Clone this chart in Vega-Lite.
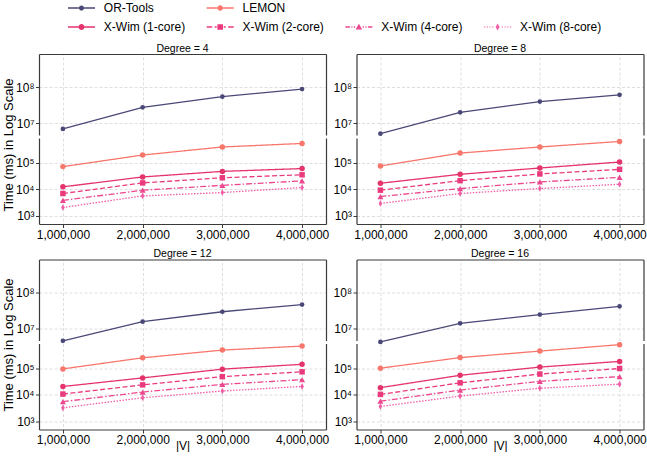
{
"$schema": "https://vega.github.io/schema/vega-lite/v6.json",
"background": "white",
"padding": {"left": 2, "top": 2, "right": 0, "bottom": 0},
"autosize": {"type": "pad"},
"config": {
  "view": {"stroke": null},
  "font": "Liberation Sans",
  "axis": {"labelFont": "Liberation Sans", "labelFontSize": 12, "labelColor": "#000", "titleFont": "Liberation Sans", "titleFontWeight": "normal", "titleColor": "#000", "domainColor": "#3a3a3a", "domainWidth": 1.2, "tickColor": "#3a3a3a", "tickSize": 3.5, "tickWidth": 1, "gridColor": "#d6d6d6", "gridDash": [3, 2], "gridWidth": 0.8, "labelPadding": 1.5}
},
"data": {"values": [
{"degree":4,"V":1000000,"series":"OR-Tools","time":6800000},{"degree":4,"V":2000000,"series":"OR-Tools","time":27500000},{"degree":4,"V":3000000,"series":"OR-Tools","time":55000000},{"degree":4,"V":4000000,"series":"OR-Tools","time":90000000},
{"degree":4,"V":1000000,"series":"LEMON","time":71000},{"degree":4,"V":2000000,"series":"LEMON","time":194000},{"degree":4,"V":3000000,"series":"LEMON","time":390000},{"degree":4,"V":4000000,"series":"LEMON","time":530000},
{"degree":4,"V":1000000,"series":"X-Wim (1-core)","time":12300},{"degree":4,"V":2000000,"series":"X-Wim (1-core)","time":29000},{"degree":4,"V":3000000,"series":"X-Wim (1-core)","time":47000},{"degree":4,"V":4000000,"series":"X-Wim (1-core)","time":60000},
{"degree":4,"V":1000000,"series":"X-Wim (2-core)","time":6900},{"degree":4,"V":2000000,"series":"X-Wim (2-core)","time":17300},{"degree":4,"V":3000000,"series":"X-Wim (2-core)","time":27000},{"degree":4,"V":4000000,"series":"X-Wim (2-core)","time":35000},
{"degree":4,"V":1000000,"series":"X-Wim (4-core)","time":3800},{"degree":4,"V":2000000,"series":"X-Wim (4-core)","time":9200},{"degree":4,"V":3000000,"series":"X-Wim (4-core)","time":14000},{"degree":4,"V":4000000,"series":"X-Wim (4-core)","time":20600},
{"degree":4,"V":1000000,"series":"X-Wim (8-core)","time":2050},{"degree":4,"V":2000000,"series":"X-Wim (8-core)","time":5600},{"degree":4,"V":3000000,"series":"X-Wim (8-core)","time":7500},{"degree":4,"V":4000000,"series":"X-Wim (8-core)","time":11600},
{"degree":8,"V":1000000,"series":"OR-Tools","time":5000000},{"degree":8,"V":2000000,"series":"OR-Tools","time":20000000},{"degree":8,"V":3000000,"series":"OR-Tools","time":40000000},{"degree":8,"V":4000000,"series":"OR-Tools","time":62000000},
{"degree":8,"V":1000000,"series":"LEMON","time":75000},{"degree":8,"V":2000000,"series":"LEMON","time":230000},{"degree":8,"V":3000000,"series":"LEMON","time":390000},{"degree":8,"V":4000000,"series":"LEMON","time":630000},
{"degree":8,"V":1000000,"series":"X-Wim (1-core)","time":16800},{"degree":8,"V":2000000,"series":"X-Wim (1-core)","time":36500},{"degree":8,"V":3000000,"series":"X-Wim (1-core)","time":63000},{"degree":8,"V":4000000,"series":"X-Wim (1-core)","time":106000},
{"degree":8,"V":1000000,"series":"X-Wim (2-core)","time":9200},{"degree":8,"V":2000000,"series":"X-Wim (2-core)","time":21000},{"degree":8,"V":3000000,"series":"X-Wim (2-core)","time":37600},{"degree":8,"V":4000000,"series":"X-Wim (2-core)","time":56000},
{"degree":8,"V":1000000,"series":"X-Wim (4-core)","time":5300},{"degree":8,"V":2000000,"series":"X-Wim (4-core)","time":10600},{"degree":8,"V":3000000,"series":"X-Wim (4-core)","time":18800},{"degree":8,"V":4000000,"series":"X-Wim (4-core)","time":28000},
{"degree":8,"V":1000000,"series":"X-Wim (8-core)","time":2900},{"degree":8,"V":2000000,"series":"X-Wim (8-core)","time":6900},{"degree":8,"V":3000000,"series":"X-Wim (8-core)","time":10600},{"degree":8,"V":4000000,"series":"X-Wim (8-core)","time":15400},
{"degree":12,"V":1000000,"series":"OR-Tools","time":4500000},{"degree":12,"V":2000000,"series":"OR-Tools","time":15600000},{"degree":12,"V":3000000,"series":"OR-Tools","time":29600000},{"degree":12,"V":4000000,"series":"OR-Tools","time":47000000},
{"degree":12,"V":1000000,"series":"LEMON","time":94000},{"degree":12,"V":2000000,"series":"LEMON","time":246000},{"degree":12,"V":3000000,"series":"LEMON","time":480000},{"degree":12,"V":4000000,"series":"LEMON","time":680000},
{"degree":12,"V":1000000,"series":"X-Wim (1-core)","time":20400},{"degree":12,"V":2000000,"series":"X-Wim (1-core)","time":43000},{"degree":12,"V":3000000,"series":"X-Wim (1-core)","time":92000},{"degree":12,"V":4000000,"series":"X-Wim (1-core)","time":140000},
{"degree":12,"V":1000000,"series":"X-Wim (2-core)","time":10600},{"degree":12,"V":2000000,"series":"X-Wim (2-core)","time":23500},{"degree":12,"V":3000000,"series":"X-Wim (2-core)","time":48000},{"degree":12,"V":4000000,"series":"X-Wim (2-core)","time":73000},
{"degree":12,"V":1000000,"series":"X-Wim (4-core)","time":5500},{"degree":12,"V":2000000,"series":"X-Wim (4-core)","time":12600},{"degree":12,"V":3000000,"series":"X-Wim (4-core)","time":24600},{"degree":12,"V":4000000,"series":"X-Wim (4-core)","time":37000},
{"degree":12,"V":1000000,"series":"X-Wim (8-core)","time":3200},{"degree":12,"V":2000000,"series":"X-Wim (8-core)","time":7700},{"degree":12,"V":3000000,"series":"X-Wim (8-core)","time":13800},{"degree":12,"V":4000000,"series":"X-Wim (8-core)","time":20600},
{"degree":16,"V":1000000,"series":"OR-Tools","time":4200000},{"degree":16,"V":2000000,"series":"OR-Tools","time":14000000},{"degree":16,"V":3000000,"series":"OR-Tools","time":24600000},{"degree":16,"V":4000000,"series":"OR-Tools","time":42000000},
{"degree":16,"V":1000000,"series":"LEMON","time":100000},{"degree":16,"V":2000000,"series":"LEMON","time":250000},{"degree":16,"V":3000000,"series":"LEMON","time":440000},{"degree":16,"V":4000000,"series":"LEMON","time":770000},
{"degree":16,"V":1000000,"series":"X-Wim (1-core)","time":18500},{"degree":16,"V":2000000,"series":"X-Wim (1-core)","time":54000},{"degree":16,"V":3000000,"series":"X-Wim (1-core)","time":110000},{"degree":16,"V":4000000,"series":"X-Wim (1-core)","time":180000},
{"degree":16,"V":1000000,"series":"X-Wim (2-core)","time":10300},{"degree":16,"V":2000000,"series":"X-Wim (2-core)","time":28000},{"degree":16,"V":3000000,"series":"X-Wim (2-core)","time":60000},{"degree":16,"V":4000000,"series":"X-Wim (2-core)","time":97000},
{"degree":16,"V":1000000,"series":"X-Wim (4-core)","time":5700},{"degree":16,"V":2000000,"series":"X-Wim (4-core)","time":15000},{"degree":16,"V":3000000,"series":"X-Wim (4-core)","time":32000},{"degree":16,"V":4000000,"series":"X-Wim (4-core)","time":48000},
{"degree":16,"V":1000000,"series":"X-Wim (8-core)","time":3600},{"degree":16,"V":2000000,"series":"X-Wim (8-core)","time":8900},{"degree":16,"V":3000000,"series":"X-Wim (8-core)","time":17600},{"degree":16,"V":4000000,"series":"X-Wim (8-core)","time":25000}
]},
"spacing": 8.5,
"vconcat": [
 {"hconcat": [
  {"vconcat": [
   {"width": 287, "height": 81,
    "title": {"text": "Degree = 4", "fontSize": 10.5, "fontWeight": "normal", "font": "Liberation Sans", "color": "#000", "offset": 0, "frame": "group", "anchor": "middle"},
    "transform": [{"filter": "datum.degree == 4 && datum.series == 'OR-Tools'"}],
    "layer": [
     {"transform": [{"filter": "false"}],
      "mark": {"type": "point", "filled": true, "opacity": 1},
      "encoding": {
       "x": {"field": "V", "type": "quantitative", "scale": {"domain": [700000, 4300000], "nice": false, "zero": false}, "axis": null},
       "y": {"field": "time", "type": "quantitative", "scale": {"type": "log", "domain": [4600000, 870000000], "nice": false}, "axis": null},
       "color": {"field": "series", "type": "nominal", "scale": {"domain": ["OR-Tools","LEMON"," ","  ","X-Wim (1-core)","X-Wim (2-core)","X-Wim (4-core)","X-Wim (8-core)"], "range": ["#4a4877","#f8776c","transparent","transparent","#e5336c","#ea3a7e","#ec478e","#f05fa6"]},
        "legend": {"title": null, "orient": "none", "legendX": 28, "legendY": -52, "direction": "horizontal", "columns": 4, "symbolSize": 100, "symbolOffset": 8.5, "symbolStrokeWidth": 0, "labelOffset": 16.3, "labelFontSize": 12, "labelFont": "Liberation Sans", "labelColor": "#000", "rowPadding": 7, "columnPadding": 19.7, "padding": 0}},
       "shape": {"field": "series", "type": "nominal", "scale": {"domain": ["OR-Tools","LEMON"," ","  ","X-Wim (1-core)","X-Wim (2-core)","X-Wim (4-core)","X-Wim (8-core)"], "range": [
         "M-2.7,-0.14H-0.52V0.14H-2.7Z M0.52,-0.14H2.7V0.14H0.52Z M-0.52,0A0.52,0.52 0 1,0 0.52,0A0.52,0.52 0 1,0 -0.52,0Z",
         "M-2.7,-0.14H-0.56V0.14H-2.7Z M0.56,-0.14H2.7V0.14H0.56Z M-0.56,0A0.56,0.56 0 1,0 0.56,0A0.56,0.56 0 1,0 -0.56,0Z",
         "circle", "circle",
         "M-2.7,-0.14H-0.6V0.14H-2.7Z M0.6,-0.14H2.7V0.14H0.6Z M-0.6,0A0.6,0.6 0 1,0 0.6,0A0.6,0.6 0 1,0 -0.6,0Z",
         "M-2.7,-0.14H-1.6V0.14H-2.7Z M-1.1,-0.14H-0.7V0.14H-1.1Z M0.7,-0.14H1.1V0.14H0.7Z M1.6,-0.14H2.7V0.14H1.6Z M-0.56,-0.56H0.56V0.56H-0.56Z",
         "M-2.7,-0.14H-1.8V0.14H-2.7Z M-1.5,-0.14H-1.3V0.14H-1.5Z M-1.0,-0.14H-0.75V0.14H-1.0Z M0.75,-0.14H1.0V0.14H0.75Z M1.3,-0.14H1.5V0.14H1.3Z M1.8,-0.14H2.7V0.14H1.8Z M0,-0.66L0.66,0.5L-0.66,0.5Z",
         "M-2.7,-0.12H-2.46V0.12H-2.7Z M-2.16,-0.12H-1.92V0.12H-2.16Z M-1.62,-0.12H-1.38V0.12H-1.62Z M-1.08,-0.12H-0.84V0.12H-1.08Z M0.84,-0.12H1.08V0.12H0.84Z M1.38,-0.12H1.62V0.12H1.38Z M1.92,-0.12H2.16V0.12H1.92Z M2.46,-0.12H2.7V0.12H2.46Z M0,-0.7L0.4,0L0,0.7L-0.4,0Z"]},
        "legend": {"title": null, "orient": "none", "legendX": 28, "legendY": -52, "direction": "horizontal", "columns": 4, "symbolSize": 100, "symbolOffset": 8.5, "symbolStrokeWidth": 0, "labelOffset": 16.3, "labelFontSize": 12, "labelFont": "Liberation Sans", "labelColor": "#000", "rowPadding": 7, "columnPadding": 19.7, "padding": 0}}}},
     {"mark": {"type": "line", "strokeWidth": 1.3},
      "encoding": {
       "x": {"field": "V", "type": "quantitative", "scale": {"domain": [700000, 4300000], "nice": false, "zero": false}, "axis": {"orient": "top", "values": [1000000, 2000000, 3000000, 4000000], "labels": false, "ticks": false, "grid": true, "title": null}},
       "y": {"field": "time", "type": "quantitative", "scale": {"type": "log", "domain": [4600000, 870000000], "nice": false}, "axis": {"values": [10000000, 100000000], "labelExpr": "'10' + ['⁰','¹','²','³','⁴','⁵','⁶','⁷','⁸','⁹'][round(log(datum.value) / LN10)]", "grid": true, "title": null, "labelFlush": false}},
       "color": {"field": "series", "type": "nominal", "scale": {"domain": ["OR-Tools","LEMON"," ","  ","X-Wim (1-core)","X-Wim (2-core)","X-Wim (4-core)","X-Wim (8-core)"], "range": ["#4a4877","#f8776c","transparent","transparent","#e5336c","#ea3a7e","#ec478e","#f05fa6"]}}}},
     {"mark": {"type": "point", "shape": "circle", "filled": true, "opacity": 1, "size": 22},
      "encoding": {
       "x": {"field": "V", "type": "quantitative", "scale": {"domain": [700000, 4300000], "nice": false, "zero": false}, "axis": null},
       "y": {"field": "time", "type": "quantitative", "scale": {"type": "log", "domain": [4600000, 870000000], "nice": false}, "axis": {"orient": "right", "labels": false, "ticks": false, "grid": false, "title": null}},
       "color": {"field": "series", "type": "nominal", "scale": {"domain": ["OR-Tools","LEMON"," ","  ","X-Wim (1-core)","X-Wim (2-core)","X-Wim (4-core)","X-Wim (8-core)"], "range": ["#4a4877","#f8776c","transparent","transparent","#e5336c","#ea3a7e","#ec478e","#f05fa6"]}}}}
    ],
    "resolve": {"axis": {"x": "independent", "y": "independent"}}},
   {"width": 287, "height": 86,
    "transform": [{"filter": "datum.degree == 4 && datum.series != 'OR-Tools'"}],
    "layer": [
     {"mark": {"type": "line", "strokeWidth": 1.3},
      "encoding": {
       "x": {"field": "V", "type": "quantitative", "scale": {"domain": [700000, 4300000], "nice": false, "zero": false}, "axis": {"values": [1000000, 2000000, 3000000, 4000000], "format": ",d", "grid": true, "title": null, "labelFlush": false}},
       "y": {"field": "time", "type": "quantitative", "scale": {"type": "log", "domain": [490, 850000], "nice": false}, "axis": {"values": [1000, 10000, 100000], "labelExpr": "'10' + ['⁰','¹','²','³','⁴','⁵','⁶','⁷','⁸','⁹'][round(log(datum.value) / LN10)]", "grid": true, "title": "Time (ms) in Log Scale", "titleFontSize": 13, "titlePadding": 0, "titleY": 6.5, "labelFlush": false}},
       "color": {"field": "series", "type": "nominal", "scale": {"domain": ["OR-Tools","LEMON"," ","  ","X-Wim (1-core)","X-Wim (2-core)","X-Wim (4-core)","X-Wim (8-core)"], "range": ["#4a4877","#f8776c","transparent","transparent","#e5336c","#ea3a7e","#ec478e","#f05fa6"]}},
       "strokeDash": {"field": "series", "type": "nominal", "scale": {"domain": ["OR-Tools","LEMON","X-Wim (1-core)","X-Wim (2-core)","X-Wim (4-core)","X-Wim (8-core)"], "range": [[1,0],[1,0],[1,0],[5,2.5],[6,2,1.5,2],[1.5,1.5]]}, "legend": null}}},
     {"transform": [{"filter": {"field": "series", "oneOf": ["LEMON", "X-Wim (1-core)"]}}],
      "mark": {"type": "point", "shape": "circle", "filled": true, "opacity": 1, "size": 30},
      "encoding": {
       "x": {"field": "V", "type": "quantitative", "scale": {"domain": [700000, 4300000], "nice": false, "zero": false}, "axis": null},
       "y": {"field": "time", "type": "quantitative", "scale": {"type": "log", "domain": [490, 850000], "nice": false}, "axis": {"orient": "right", "labels": false, "ticks": false, "grid": false, "title": null}},
       "color": {"field": "series", "type": "nominal", "scale": {"domain": ["OR-Tools","LEMON"," ","  ","X-Wim (1-core)","X-Wim (2-core)","X-Wim (4-core)","X-Wim (8-core)"], "range": ["#4a4877","#f8776c","transparent","transparent","#e5336c","#ea3a7e","#ec478e","#f05fa6"]}}}},
     {"transform": [{"filter": {"field": "series", "equal": "X-Wim (2-core)"}}],
      "mark": {"type": "point", "shape": "square", "filled": true, "opacity": 1, "size": 30},
      "encoding": {
       "x": {"field": "V", "type": "quantitative", "scale": {"domain": [700000, 4300000], "nice": false, "zero": false}, "axis": null},
       "y": {"field": "time", "type": "quantitative", "scale": {"type": "log", "domain": [490, 850000], "nice": false}, "axis": null},
       "color": {"field": "series", "type": "nominal", "scale": {"domain": ["OR-Tools","LEMON"," ","  ","X-Wim (1-core)","X-Wim (2-core)","X-Wim (4-core)","X-Wim (8-core)"], "range": ["#4a4877","#f8776c","transparent","transparent","#e5336c","#ea3a7e","#ec478e","#f05fa6"]}}}},
     {"transform": [{"filter": {"field": "series", "equal": "X-Wim (4-core)"}}],
      "mark": {"type": "point", "shape": "triangle-up", "filled": true, "opacity": 1, "size": 36},
      "encoding": {
       "x": {"field": "V", "type": "quantitative", "scale": {"domain": [700000, 4300000], "nice": false, "zero": false}, "axis": null},
       "y": {"field": "time", "type": "quantitative", "scale": {"type": "log", "domain": [490, 850000], "nice": false}, "axis": null},
       "color": {"field": "series", "type": "nominal", "scale": {"domain": ["OR-Tools","LEMON"," ","  ","X-Wim (1-core)","X-Wim (2-core)","X-Wim (4-core)","X-Wim (8-core)"], "range": ["#4a4877","#f8776c","transparent","transparent","#e5336c","#ea3a7e","#ec478e","#f05fa6"]}}}},
     {"transform": [{"filter": {"field": "series", "equal": "X-Wim (8-core)"}}],
      "mark": {"type": "point", "shape": "M0,-1L0.55,0L0,1L-0.55,0Z", "filled": true, "opacity": 1, "size": 44},
      "encoding": {
       "x": {"field": "V", "type": "quantitative", "scale": {"domain": [700000, 4300000], "nice": false, "zero": false}, "axis": null},
       "y": {"field": "time", "type": "quantitative", "scale": {"type": "log", "domain": [490, 850000], "nice": false}, "axis": null},
       "color": {"field": "series", "type": "nominal", "scale": {"domain": ["OR-Tools","LEMON"," ","  ","X-Wim (1-core)","X-Wim (2-core)","X-Wim (4-core)","X-Wim (8-core)"], "range": ["#4a4877","#f8776c","transparent","transparent","#e5336c","#ea3a7e","#ec478e","#f05fa6"]}}}}
    ],
    "resolve": {"axis": {"x": "independent", "y": "independent"}}}
  ], "spacing": 3, "bounds": "flush"},
  {"vconcat": [
   {"width": 287, "height": 81,
    "title": {"text": "Degree = 8", "fontSize": 10.5, "fontWeight": "normal", "font": "Liberation Sans", "color": "#000", "offset": 0, "frame": "group", "anchor": "middle"},
    "transform": [{"filter": "datum.degree == 8 && datum.series == 'OR-Tools'"}],
    "layer": [
     {"mark": {"type": "line", "strokeWidth": 1.3},
      "encoding": {
       "x": {"field": "V", "type": "quantitative", "scale": {"domain": [700000, 4300000], "nice": false, "zero": false}, "axis": {"orient": "top", "values": [1000000, 2000000, 3000000, 4000000], "labels": false, "ticks": false, "grid": true, "title": null}},
       "y": {"field": "time", "type": "quantitative", "scale": {"type": "log", "domain": [4600000, 870000000], "nice": false}, "axis": {"values": [10000000, 100000000], "labelExpr": "'10' + ['⁰','¹','²','³','⁴','⁵','⁶','⁷','⁸','⁹'][round(log(datum.value) / LN10)]", "grid": true, "title": null, "labelFlush": false}},
       "color": {"field": "series", "type": "nominal", "scale": {"domain": ["OR-Tools","LEMON"," ","  ","X-Wim (1-core)","X-Wim (2-core)","X-Wim (4-core)","X-Wim (8-core)"], "range": ["#4a4877","#f8776c","transparent","transparent","#e5336c","#ea3a7e","#ec478e","#f05fa6"]}}}},
     {"mark": {"type": "point", "shape": "circle", "filled": true, "opacity": 1, "size": 22},
      "encoding": {
       "x": {"field": "V", "type": "quantitative", "scale": {"domain": [700000, 4300000], "nice": false, "zero": false}, "axis": null},
       "y": {"field": "time", "type": "quantitative", "scale": {"type": "log", "domain": [4600000, 870000000], "nice": false}, "axis": {"orient": "right", "labels": false, "ticks": false, "grid": false, "title": null}},
       "color": {"field": "series", "type": "nominal", "scale": {"domain": ["OR-Tools","LEMON"," ","  ","X-Wim (1-core)","X-Wim (2-core)","X-Wim (4-core)","X-Wim (8-core)"], "range": ["#4a4877","#f8776c","transparent","transparent","#e5336c","#ea3a7e","#ec478e","#f05fa6"]}}}}
    ],
    "resolve": {"axis": {"x": "independent", "y": "independent"}}},
   {"width": 287, "height": 86,
    "transform": [{"filter": "datum.degree == 8 && datum.series != 'OR-Tools'"}],
    "layer": [
     {"mark": {"type": "line", "strokeWidth": 1.3},
      "encoding": {
       "x": {"field": "V", "type": "quantitative", "scale": {"domain": [700000, 4300000], "nice": false, "zero": false}, "axis": {"values": [1000000, 2000000, 3000000, 4000000], "format": ",d", "grid": true, "title": null, "labelFlush": false}},
       "y": {"field": "time", "type": "quantitative", "scale": {"type": "log", "domain": [490, 850000], "nice": false}, "axis": {"values": [1000, 10000, 100000], "labelExpr": "'10' + ['⁰','¹','²','³','⁴','⁵','⁶','⁷','⁸','⁹'][round(log(datum.value) / LN10)]", "grid": true, "title": null, "labelFlush": false}},
       "color": {"field": "series", "type": "nominal", "scale": {"domain": ["OR-Tools","LEMON"," ","  ","X-Wim (1-core)","X-Wim (2-core)","X-Wim (4-core)","X-Wim (8-core)"], "range": ["#4a4877","#f8776c","transparent","transparent","#e5336c","#ea3a7e","#ec478e","#f05fa6"]}},
       "strokeDash": {"field": "series", "type": "nominal", "scale": {"domain": ["OR-Tools","LEMON","X-Wim (1-core)","X-Wim (2-core)","X-Wim (4-core)","X-Wim (8-core)"], "range": [[1,0],[1,0],[1,0],[5,2.5],[6,2,1.5,2],[1.5,1.5]]}, "legend": null}}},
     {"transform": [{"filter": {"field": "series", "oneOf": ["LEMON", "X-Wim (1-core)"]}}],
      "mark": {"type": "point", "shape": "circle", "filled": true, "opacity": 1, "size": 30},
      "encoding": {
       "x": {"field": "V", "type": "quantitative", "scale": {"domain": [700000, 4300000], "nice": false, "zero": false}, "axis": null},
       "y": {"field": "time", "type": "quantitative", "scale": {"type": "log", "domain": [490, 850000], "nice": false}, "axis": {"orient": "right", "labels": false, "ticks": false, "grid": false, "title": null}},
       "color": {"field": "series", "type": "nominal", "scale": {"domain": ["OR-Tools","LEMON"," ","  ","X-Wim (1-core)","X-Wim (2-core)","X-Wim (4-core)","X-Wim (8-core)"], "range": ["#4a4877","#f8776c","transparent","transparent","#e5336c","#ea3a7e","#ec478e","#f05fa6"]}}}},
     {"transform": [{"filter": {"field": "series", "equal": "X-Wim (2-core)"}}],
      "mark": {"type": "point", "shape": "square", "filled": true, "opacity": 1, "size": 30},
      "encoding": {
       "x": {"field": "V", "type": "quantitative", "scale": {"domain": [700000, 4300000], "nice": false, "zero": false}, "axis": null},
       "y": {"field": "time", "type": "quantitative", "scale": {"type": "log", "domain": [490, 850000], "nice": false}, "axis": null},
       "color": {"field": "series", "type": "nominal", "scale": {"domain": ["OR-Tools","LEMON"," ","  ","X-Wim (1-core)","X-Wim (2-core)","X-Wim (4-core)","X-Wim (8-core)"], "range": ["#4a4877","#f8776c","transparent","transparent","#e5336c","#ea3a7e","#ec478e","#f05fa6"]}}}},
     {"transform": [{"filter": {"field": "series", "equal": "X-Wim (4-core)"}}],
      "mark": {"type": "point", "shape": "triangle-up", "filled": true, "opacity": 1, "size": 36},
      "encoding": {
       "x": {"field": "V", "type": "quantitative", "scale": {"domain": [700000, 4300000], "nice": false, "zero": false}, "axis": null},
       "y": {"field": "time", "type": "quantitative", "scale": {"type": "log", "domain": [490, 850000], "nice": false}, "axis": null},
       "color": {"field": "series", "type": "nominal", "scale": {"domain": ["OR-Tools","LEMON"," ","  ","X-Wim (1-core)","X-Wim (2-core)","X-Wim (4-core)","X-Wim (8-core)"], "range": ["#4a4877","#f8776c","transparent","transparent","#e5336c","#ea3a7e","#ec478e","#f05fa6"]}}}},
     {"transform": [{"filter": {"field": "series", "equal": "X-Wim (8-core)"}}],
      "mark": {"type": "point", "shape": "M0,-1L0.55,0L0,1L-0.55,0Z", "filled": true, "opacity": 1, "size": 44},
      "encoding": {
       "x": {"field": "V", "type": "quantitative", "scale": {"domain": [700000, 4300000], "nice": false, "zero": false}, "axis": null},
       "y": {"field": "time", "type": "quantitative", "scale": {"type": "log", "domain": [490, 850000], "nice": false}, "axis": null},
       "color": {"field": "series", "type": "nominal", "scale": {"domain": ["OR-Tools","LEMON"," ","  ","X-Wim (1-core)","X-Wim (2-core)","X-Wim (4-core)","X-Wim (8-core)"], "range": ["#4a4877","#f8776c","transparent","transparent","#e5336c","#ea3a7e","#ec478e","#f05fa6"]}}}}
    ],
    "resolve": {"axis": {"x": "independent", "y": "independent"}}}
  ], "spacing": 3, "bounds": "flush"}
 ], "spacing": 3.5},
 {"hconcat": [
  {"vconcat": [
   {"width": 287, "height": 81,
    "title": {"text": "Degree = 12", "fontSize": 10.5, "fontWeight": "normal", "font": "Liberation Sans", "color": "#000", "offset": 0, "frame": "group", "anchor": "middle"},
    "transform": [{"filter": "datum.degree == 12 && datum.series == 'OR-Tools'"}],
    "layer": [
     {"mark": {"type": "line", "strokeWidth": 1.3},
      "encoding": {
       "x": {"field": "V", "type": "quantitative", "scale": {"domain": [700000, 4300000], "nice": false, "zero": false}, "axis": {"orient": "top", "values": [1000000, 2000000, 3000000, 4000000], "labels": false, "ticks": false, "grid": true, "title": null}},
       "y": {"field": "time", "type": "quantitative", "scale": {"type": "log", "domain": [4600000, 870000000], "nice": false}, "axis": {"values": [10000000, 100000000], "labelExpr": "'10' + ['⁰','¹','²','³','⁴','⁵','⁶','⁷','⁸','⁹'][round(log(datum.value) / LN10)]", "grid": true, "title": null, "labelFlush": false}},
       "color": {"field": "series", "type": "nominal", "scale": {"domain": ["OR-Tools","LEMON"," ","  ","X-Wim (1-core)","X-Wim (2-core)","X-Wim (4-core)","X-Wim (8-core)"], "range": ["#4a4877","#f8776c","transparent","transparent","#e5336c","#ea3a7e","#ec478e","#f05fa6"]}}}},
     {"mark": {"type": "point", "shape": "circle", "filled": true, "opacity": 1, "size": 22},
      "encoding": {
       "x": {"field": "V", "type": "quantitative", "scale": {"domain": [700000, 4300000], "nice": false, "zero": false}, "axis": null},
       "y": {"field": "time", "type": "quantitative", "scale": {"type": "log", "domain": [4600000, 870000000], "nice": false}, "axis": {"orient": "right", "labels": false, "ticks": false, "grid": false, "title": null}},
       "color": {"field": "series", "type": "nominal", "scale": {"domain": ["OR-Tools","LEMON"," ","  ","X-Wim (1-core)","X-Wim (2-core)","X-Wim (4-core)","X-Wim (8-core)"], "range": ["#4a4877","#f8776c","transparent","transparent","#e5336c","#ea3a7e","#ec478e","#f05fa6"]}}}}
    ],
    "resolve": {"axis": {"x": "independent", "y": "independent"}}},
   {"width": 287, "height": 86,
    "transform": [{"filter": "datum.degree == 12 && datum.series != 'OR-Tools'"}],
    "layer": [
     {"mark": {"type": "line", "strokeWidth": 1.3},
      "encoding": {
       "x": {"field": "V", "type": "quantitative", "scale": {"domain": [700000, 4300000], "nice": false, "zero": false}, "axis": {"values": [1000000, 2000000, 3000000, 4000000], "format": ",d", "grid": true, "title": "|V|", "titleFontSize": 12, "titlePadding": -5, "labelFlush": false}},
       "y": {"field": "time", "type": "quantitative", "scale": {"type": "log", "domain": [490, 850000], "nice": false}, "axis": {"values": [1000, 10000, 100000], "labelExpr": "'10' + ['⁰','¹','²','³','⁴','⁵','⁶','⁷','⁸','⁹'][round(log(datum.value) / LN10)]", "grid": true, "title": "Time (ms) in Log Scale", "titleFontSize": 13, "titlePadding": 0, "titleY": 1, "labelFlush": false}},
       "color": {"field": "series", "type": "nominal", "scale": {"domain": ["OR-Tools","LEMON"," ","  ","X-Wim (1-core)","X-Wim (2-core)","X-Wim (4-core)","X-Wim (8-core)"], "range": ["#4a4877","#f8776c","transparent","transparent","#e5336c","#ea3a7e","#ec478e","#f05fa6"]}},
       "strokeDash": {"field": "series", "type": "nominal", "scale": {"domain": ["OR-Tools","LEMON","X-Wim (1-core)","X-Wim (2-core)","X-Wim (4-core)","X-Wim (8-core)"], "range": [[1,0],[1,0],[1,0],[5,2.5],[6,2,1.5,2],[1.5,1.5]]}, "legend": null}}},
     {"transform": [{"filter": {"field": "series", "oneOf": ["LEMON", "X-Wim (1-core)"]}}],
      "mark": {"type": "point", "shape": "circle", "filled": true, "opacity": 1, "size": 30},
      "encoding": {
       "x": {"field": "V", "type": "quantitative", "scale": {"domain": [700000, 4300000], "nice": false, "zero": false}, "axis": null},
       "y": {"field": "time", "type": "quantitative", "scale": {"type": "log", "domain": [490, 850000], "nice": false}, "axis": {"orient": "right", "labels": false, "ticks": false, "grid": false, "title": null}},
       "color": {"field": "series", "type": "nominal", "scale": {"domain": ["OR-Tools","LEMON"," ","  ","X-Wim (1-core)","X-Wim (2-core)","X-Wim (4-core)","X-Wim (8-core)"], "range": ["#4a4877","#f8776c","transparent","transparent","#e5336c","#ea3a7e","#ec478e","#f05fa6"]}}}},
     {"transform": [{"filter": {"field": "series", "equal": "X-Wim (2-core)"}}],
      "mark": {"type": "point", "shape": "square", "filled": true, "opacity": 1, "size": 30},
      "encoding": {
       "x": {"field": "V", "type": "quantitative", "scale": {"domain": [700000, 4300000], "nice": false, "zero": false}, "axis": null},
       "y": {"field": "time", "type": "quantitative", "scale": {"type": "log", "domain": [490, 850000], "nice": false}, "axis": null},
       "color": {"field": "series", "type": "nominal", "scale": {"domain": ["OR-Tools","LEMON"," ","  ","X-Wim (1-core)","X-Wim (2-core)","X-Wim (4-core)","X-Wim (8-core)"], "range": ["#4a4877","#f8776c","transparent","transparent","#e5336c","#ea3a7e","#ec478e","#f05fa6"]}}}},
     {"transform": [{"filter": {"field": "series", "equal": "X-Wim (4-core)"}}],
      "mark": {"type": "point", "shape": "triangle-up", "filled": true, "opacity": 1, "size": 36},
      "encoding": {
       "x": {"field": "V", "type": "quantitative", "scale": {"domain": [700000, 4300000], "nice": false, "zero": false}, "axis": null},
       "y": {"field": "time", "type": "quantitative", "scale": {"type": "log", "domain": [490, 850000], "nice": false}, "axis": null},
       "color": {"field": "series", "type": "nominal", "scale": {"domain": ["OR-Tools","LEMON"," ","  ","X-Wim (1-core)","X-Wim (2-core)","X-Wim (4-core)","X-Wim (8-core)"], "range": ["#4a4877","#f8776c","transparent","transparent","#e5336c","#ea3a7e","#ec478e","#f05fa6"]}}}},
     {"transform": [{"filter": {"field": "series", "equal": "X-Wim (8-core)"}}],
      "mark": {"type": "point", "shape": "M0,-1L0.55,0L0,1L-0.55,0Z", "filled": true, "opacity": 1, "size": 44},
      "encoding": {
       "x": {"field": "V", "type": "quantitative", "scale": {"domain": [700000, 4300000], "nice": false, "zero": false}, "axis": null},
       "y": {"field": "time", "type": "quantitative", "scale": {"type": "log", "domain": [490, 850000], "nice": false}, "axis": null},
       "color": {"field": "series", "type": "nominal", "scale": {"domain": ["OR-Tools","LEMON"," ","  ","X-Wim (1-core)","X-Wim (2-core)","X-Wim (4-core)","X-Wim (8-core)"], "range": ["#4a4877","#f8776c","transparent","transparent","#e5336c","#ea3a7e","#ec478e","#f05fa6"]}}}}
    ],
    "resolve": {"axis": {"x": "independent", "y": "independent"}}}
  ], "spacing": 3, "bounds": "flush"},
  {"vconcat": [
   {"width": 287, "height": 81,
    "title": {"text": "Degree = 16", "fontSize": 10.5, "fontWeight": "normal", "font": "Liberation Sans", "color": "#000", "offset": 0, "frame": "group", "anchor": "middle"},
    "transform": [{"filter": "datum.degree == 16 && datum.series == 'OR-Tools'"}],
    "layer": [
     {"mark": {"type": "line", "strokeWidth": 1.3},
      "encoding": {
       "x": {"field": "V", "type": "quantitative", "scale": {"domain": [700000, 4300000], "nice": false, "zero": false}, "axis": {"orient": "top", "values": [1000000, 2000000, 3000000, 4000000], "labels": false, "ticks": false, "grid": true, "title": null}},
       "y": {"field": "time", "type": "quantitative", "scale": {"type": "log", "domain": [4600000, 870000000], "nice": false}, "axis": {"values": [10000000, 100000000], "labelExpr": "'10' + ['⁰','¹','²','³','⁴','⁵','⁶','⁷','⁸','⁹'][round(log(datum.value) / LN10)]", "grid": true, "title": null, "labelFlush": false}},
       "color": {"field": "series", "type": "nominal", "scale": {"domain": ["OR-Tools","LEMON"," ","  ","X-Wim (1-core)","X-Wim (2-core)","X-Wim (4-core)","X-Wim (8-core)"], "range": ["#4a4877","#f8776c","transparent","transparent","#e5336c","#ea3a7e","#ec478e","#f05fa6"]}}}},
     {"mark": {"type": "point", "shape": "circle", "filled": true, "opacity": 1, "size": 22},
      "encoding": {
       "x": {"field": "V", "type": "quantitative", "scale": {"domain": [700000, 4300000], "nice": false, "zero": false}, "axis": null},
       "y": {"field": "time", "type": "quantitative", "scale": {"type": "log", "domain": [4600000, 870000000], "nice": false}, "axis": {"orient": "right", "labels": false, "ticks": false, "grid": false, "title": null}},
       "color": {"field": "series", "type": "nominal", "scale": {"domain": ["OR-Tools","LEMON"," ","  ","X-Wim (1-core)","X-Wim (2-core)","X-Wim (4-core)","X-Wim (8-core)"], "range": ["#4a4877","#f8776c","transparent","transparent","#e5336c","#ea3a7e","#ec478e","#f05fa6"]}}}}
    ],
    "resolve": {"axis": {"x": "independent", "y": "independent"}}},
   {"width": 287, "height": 86,
    "transform": [{"filter": "datum.degree == 16 && datum.series != 'OR-Tools'"}],
    "layer": [
     {"mark": {"type": "line", "strokeWidth": 1.3},
      "encoding": {
       "x": {"field": "V", "type": "quantitative", "scale": {"domain": [700000, 4300000], "nice": false, "zero": false}, "axis": {"values": [1000000, 2000000, 3000000, 4000000], "format": ",d", "grid": true, "title": "|V|", "titleFontSize": 12, "titlePadding": -5, "labelFlush": false}},
       "y": {"field": "time", "type": "quantitative", "scale": {"type": "log", "domain": [490, 850000], "nice": false}, "axis": {"values": [1000, 10000, 100000], "labelExpr": "'10' + ['⁰','¹','²','³','⁴','⁵','⁶','⁷','⁸','⁹'][round(log(datum.value) / LN10)]", "grid": true, "title": null, "labelFlush": false}},
       "color": {"field": "series", "type": "nominal", "scale": {"domain": ["OR-Tools","LEMON"," ","  ","X-Wim (1-core)","X-Wim (2-core)","X-Wim (4-core)","X-Wim (8-core)"], "range": ["#4a4877","#f8776c","transparent","transparent","#e5336c","#ea3a7e","#ec478e","#f05fa6"]}},
       "strokeDash": {"field": "series", "type": "nominal", "scale": {"domain": ["OR-Tools","LEMON","X-Wim (1-core)","X-Wim (2-core)","X-Wim (4-core)","X-Wim (8-core)"], "range": [[1,0],[1,0],[1,0],[5,2.5],[6,2,1.5,2],[1.5,1.5]]}, "legend": null}}},
     {"transform": [{"filter": {"field": "series", "oneOf": ["LEMON", "X-Wim (1-core)"]}}],
      "mark": {"type": "point", "shape": "circle", "filled": true, "opacity": 1, "size": 30},
      "encoding": {
       "x": {"field": "V", "type": "quantitative", "scale": {"domain": [700000, 4300000], "nice": false, "zero": false}, "axis": null},
       "y": {"field": "time", "type": "quantitative", "scale": {"type": "log", "domain": [490, 850000], "nice": false}, "axis": {"orient": "right", "labels": false, "ticks": false, "grid": false, "title": null}},
       "color": {"field": "series", "type": "nominal", "scale": {"domain": ["OR-Tools","LEMON"," ","  ","X-Wim (1-core)","X-Wim (2-core)","X-Wim (4-core)","X-Wim (8-core)"], "range": ["#4a4877","#f8776c","transparent","transparent","#e5336c","#ea3a7e","#ec478e","#f05fa6"]}}}},
     {"transform": [{"filter": {"field": "series", "equal": "X-Wim (2-core)"}}],
      "mark": {"type": "point", "shape": "square", "filled": true, "opacity": 1, "size": 30},
      "encoding": {
       "x": {"field": "V", "type": "quantitative", "scale": {"domain": [700000, 4300000], "nice": false, "zero": false}, "axis": null},
       "y": {"field": "time", "type": "quantitative", "scale": {"type": "log", "domain": [490, 850000], "nice": false}, "axis": null},
       "color": {"field": "series", "type": "nominal", "scale": {"domain": ["OR-Tools","LEMON"," ","  ","X-Wim (1-core)","X-Wim (2-core)","X-Wim (4-core)","X-Wim (8-core)"], "range": ["#4a4877","#f8776c","transparent","transparent","#e5336c","#ea3a7e","#ec478e","#f05fa6"]}}}},
     {"transform": [{"filter": {"field": "series", "equal": "X-Wim (4-core)"}}],
      "mark": {"type": "point", "shape": "triangle-up", "filled": true, "opacity": 1, "size": 36},
      "encoding": {
       "x": {"field": "V", "type": "quantitative", "scale": {"domain": [700000, 4300000], "nice": false, "zero": false}, "axis": null},
       "y": {"field": "time", "type": "quantitative", "scale": {"type": "log", "domain": [490, 850000], "nice": false}, "axis": null},
       "color": {"field": "series", "type": "nominal", "scale": {"domain": ["OR-Tools","LEMON"," ","  ","X-Wim (1-core)","X-Wim (2-core)","X-Wim (4-core)","X-Wim (8-core)"], "range": ["#4a4877","#f8776c","transparent","transparent","#e5336c","#ea3a7e","#ec478e","#f05fa6"]}}}},
     {"transform": [{"filter": {"field": "series", "equal": "X-Wim (8-core)"}}],
      "mark": {"type": "point", "shape": "M0,-1L0.55,0L0,1L-0.55,0Z", "filled": true, "opacity": 1, "size": 44},
      "encoding": {
       "x": {"field": "V", "type": "quantitative", "scale": {"domain": [700000, 4300000], "nice": false, "zero": false}, "axis": null},
       "y": {"field": "time", "type": "quantitative", "scale": {"type": "log", "domain": [490, 850000], "nice": false}, "axis": null},
       "color": {"field": "series", "type": "nominal", "scale": {"domain": ["OR-Tools","LEMON"," ","  ","X-Wim (1-core)","X-Wim (2-core)","X-Wim (4-core)","X-Wim (8-core)"], "range": ["#4a4877","#f8776c","transparent","transparent","#e5336c","#ea3a7e","#ec478e","#f05fa6"]}}}}
    ],
    "resolve": {"axis": {"x": "independent", "y": "independent"}}}
  ], "spacing": 3, "bounds": "flush"}
 ], "spacing": 3.5}
]
}
